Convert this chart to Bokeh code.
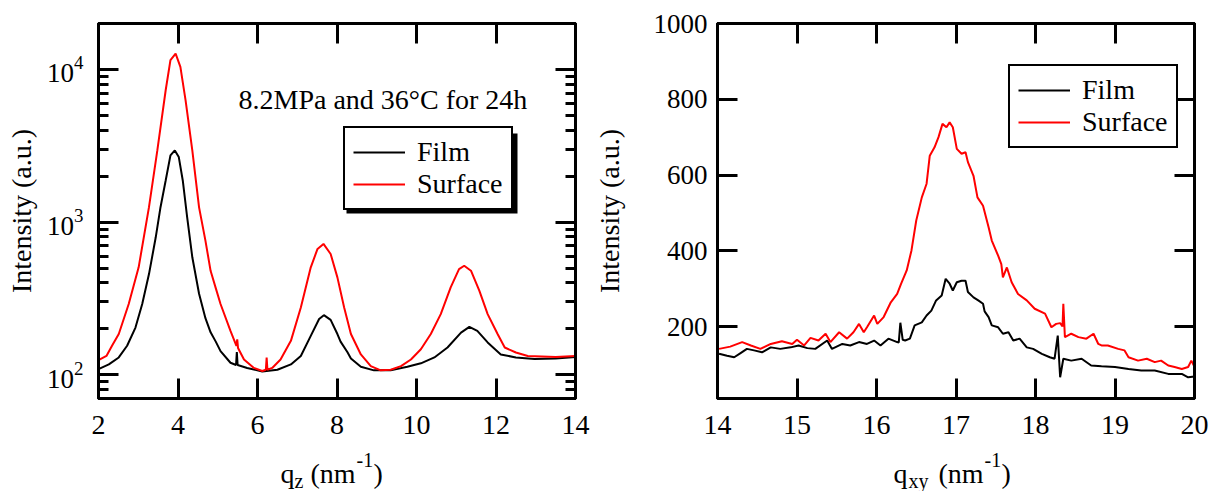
import numpy as np
from bokeh.plotting import figure
from bokeh.models import (Label, Legend, LegendItem, LinearAxis, LogAxis, FixedTicker,
                          CustomJSTickFormatter, BoxAnnotation, Range1d)
from bokeh.layouts import row, column
from bokeh.embed import file_html
from bokeh.resources import INLINE

# ---------------- data ----------------
film_qz = [2.00, 2.26, 2.51, 2.72, 2.93, 3.10, 3.27, 3.44, 3.56, 3.69, 3.81, 3.92, 4.02, 4.12,
           4.23, 4.36, 4.53, 4.69, 4.82, 4.95, 5.07, 5.32, 5.46, 5.48, 5.50, 5.74, 6.12, 6.50,
           6.84, 7.09, 7.34, 7.55, 7.67, 7.84, 8.01, 8.09, 8.26, 8.35, 8.60, 8.93, 9.35, 9.77,
           10.11, 10.45, 10.78, 11.12, 11.33, 11.53, 11.79, 12.12, 12.50, 12.97, 13.50, 14.00]
film_I = [109, 117, 130, 155, 204, 291, 457, 796, 1253, 1875, 2735, 2950, 2667, 1875,
          1077, 589, 340, 235, 190, 165, 143, 120, 116, 141, 116, 111, 105, 108,
          117, 133, 180, 232, 246, 229, 185, 165, 141, 128, 113, 107, 107, 113,
          119, 130, 151, 189, 206, 194, 163, 136, 130, 127, 128, 131]

surf_qz = [2.00, 2.20, 2.34, 2.51, 2.76, 3.01, 3.27, 3.48, 3.69, 3.81, 3.94, 4.06, 4.19, 4.36,
           4.53, 4.69, 4.82, 4.95, 5.07, 5.32, 5.47, 5.49, 5.51, 5.66, 5.91, 6.12, 6.21, 6.23,
           6.25, 6.37, 6.58, 6.84, 7.09, 7.34, 7.51, 7.66, 7.84, 8.01, 8.18, 8.35, 8.60, 8.85,
           9.10, 9.35, 9.61, 9.86, 10.11, 10.36, 10.61, 10.86, 11.07, 11.20, 11.37, 11.58,
           11.79, 12.04, 12.22, 12.50, 12.80, 13.50, 14.00]
surf_I = [125, 133, 155, 185, 291, 506, 1253, 2950, 7310, 11500, 12700, 10400, 6300, 2950,
          1250, 757, 480, 370, 291, 194, 155, 171, 150, 126, 111, 106, 108, 130,
          108, 111, 126, 167, 276, 506, 668, 720, 619, 435, 276, 185, 136, 114,
          107, 108, 114, 126, 147, 185, 250, 374, 493, 518, 481, 356,
          250, 185, 151, 140, 133, 131, 133]

film_qxy = [14.02, 14.12, 14.21, 14.29, 14.37, 14.46, 14.56, 14.67, 14.79, 14.92,
            15.02, 15.13, 15.23, 15.38, 15.44, 15.57, 15.67, 15.78, 15.88, 15.97,
            16.05, 16.15, 16.26, 16.28, 16.30, 16.33, 16.36, 16.42, 16.48, 16.57,
            16.63, 16.69, 16.75, 16.82, 16.87, 16.92, 16.96, 17.01, 17.07, 17.12,
            17.15, 17.22, 17.28, 17.34, 17.36, 17.41, 17.45, 17.53, 17.59, 17.66,
            17.72, 17.80, 17.89, 17.97, 18.08, 18.18, 18.24, 18.28, 18.31, 18.35,
            18.45, 18.58, 18.70, 18.83, 19.00, 19.17, 19.33, 19.50, 19.67, 19.84,
            19.92, 20.00]
film_Ixy = [128, 123, 119, 130, 141, 137, 132, 145, 141, 145,
            150, 143, 141, 163, 141, 154, 150, 159, 154, 163,
            150, 168, 159, 158, 210, 165, 163, 168, 203, 211,
            229, 242, 269, 282, 326, 313, 295, 317, 321, 321,
            291, 277, 269, 260, 240, 225, 203, 198, 181, 185,
            163, 168, 145, 141, 128, 119, 115, 176, 66, 115,
            110, 115, 97, 95, 93, 88, 84, 84, 75, 75,
            66, 68]

surf_qxy = [14.02, 14.16, 14.31, 14.42, 14.54, 14.67, 14.81, 14.94, 15.00, 15.09,
            15.17, 15.27, 15.36, 15.42, 15.53, 15.63, 15.71, 15.78, 15.84, 15.88,
            15.97, 16.01, 16.09, 16.18, 16.26, 16.31, 16.38, 16.44, 16.50, 16.57,
            16.63, 16.67, 16.73, 16.78, 16.83, 16.88, 16.92, 16.96, 17.01, 17.07,
            17.12, 17.15, 17.22, 17.27, 17.34, 17.41, 17.45, 17.53, 17.57, 17.59,
            17.64, 17.70, 17.78, 17.89, 17.99, 18.12, 18.20, 18.26, 18.31, 18.34,
            18.35, 18.37, 18.45, 18.54, 18.64, 18.73, 18.79, 18.83, 18.91, 19.04,
            19.12, 19.17, 19.29, 19.40, 19.50, 19.58, 19.67, 19.75, 19.84, 19.92,
            19.96, 20.00]
surf_Ixy = [141, 147, 159, 150, 141, 154, 161, 154, 165, 150,
            170, 163, 181, 159, 185, 168, 185, 207, 185, 198,
            229, 207, 225, 264, 286, 313, 348, 401, 480, 541,
            577, 651, 673, 700, 735, 726, 739, 726, 669, 656,
            660, 634, 598, 541, 519, 462, 427, 387, 365, 330,
            356, 317, 286, 269, 247, 234, 198, 207, 209, 200,
            260, 172, 181, 172, 168, 181, 154, 150, 150, 141,
            137, 119, 110, 115, 106, 110, 97, 93, 88, 93,
            110, 94]

qz_ticks = [2, 4, 6, 8, 10, 12, 14]
logI_ticks = [100, 1000, 10000]
logI_minor = [k * 10 ** n for n in (1, 2, 3, 4) for k in range(2, 10) if 70 <= k * 10 ** n <= 20000]
qxy_ticks = [14, 15, 16, 17, 18, 19, 20]
Ixy_ticks = [200, 400, 600, 800, 1000]

series_names = ["Film", "Surface"]
annotation_text = "8.2MPa and 36°C for 24h"
y_title = "Intensity (a.u.)"

FONT = "Liberation Serif"
BLACK = "#000000"
RED = "#ff0000"
LW = 3
TOP, FRAME_H, BOTTOM = 23, 375, 48
TOTAL_H = 491


def style_axis(ax, labels=True, size="27px", standoff=10):
    ax.axis_line_width = LW
    ax.axis_line_color = BLACK
    ax.major_tick_in = 20
    ax.major_tick_out = 0
    ax.minor_tick_in = 10
    ax.minor_tick_out = 0
    ax.major_tick_line_width = LW
    ax.minor_tick_line_width = LW
    ax.major_tick_line_color = BLACK
    ax.minor_tick_line_color = BLACK
    ax.major_label_text_font = FONT
    ax.major_label_text_font_size = size
    ax.major_label_text_color = BLACK
    ax.major_label_standoff = standoff
    ax.axis_label_text_font = FONT
    ax.axis_label_text_font_size = "28px"
    ax.axis_label_text_font_style = "normal"
    ax.axis_label_text_color = BLACK
    if not labels:
        ax.formatter = CustomJSTickFormatter(code="return ''")
        ax.major_label_text_font_size = "1px"
        ax.major_label_standoff = 0


def base_fig(**kw):
    p = figure(frame_width=477, frame_height=FRAME_H, min_border_top=TOP, min_border_bottom=BOTTOM,
               output_backend="svg", toolbar_location=None, **kw)
    p.outline_line_color = BLACK
    p.outline_line_width = LW
    p.xgrid.visible = False
    p.ygrid.visible = False
    p.background_fill_color = "white"
    p.border_fill_color = "white"
    return p


def label_fig(width, height):
    f = figure(width=width, height=height, x_axis_location=None, y_axis_location=None,
               min_border_left=0, min_border_right=0, min_border_top=0, min_border_bottom=0,
               x_range=Range1d(0, 1), y_range=Range1d(0, 1),
               output_backend="svg", toolbar_location=None)
    f.outline_line_color = None
    f.xgrid.visible = False
    f.ygrid.visible = False
    f.background_fill_color = "white"
    f.border_fill_color = "white"
    return f


def lbl(p, x, y, text, size="28px", **kw):
    p.add_layout(Label(x=x, y=y, x_units="screen", y_units="screen", text=text,
                       text_font=FONT, text_font_size=size, text_color=BLACK, **kw))


def make_legend(renderers, loc):
    leg = Legend(items=[LegendItem(label=n, renderers=[r]) for n, r in zip(series_names, renderers)],
                 location=loc, margin=0)
    leg.label_text_font = FONT
    leg.label_text_font_size = "28px"
    leg.label_text_color = BLACK
    leg.glyph_width = 52
    leg.glyph_height = 32
    leg.label_height = 32
    leg.label_standoff = 12
    leg.spacing = 0
    leg.padding = 8
    leg.border_line_color = BLACK
    leg.border_line_alpha = 1.0
    leg.border_line_width = 2.5
    leg.background_fill_color = "white"
    leg.background_fill_alpha = 1.0
    return leg


XL_H = TOTAL_H - (TOP + FRAME_H + BOTTOM)
BASE = 18          # baseline of the x-axis titles above the strip bottom
SUB = BASE - 7     # subscript baseline
SUP = BASE + 14    # superscript baseline

# ---------------- left panel ----------------
p1 = base_fig(y_axis_type="log", x_range=Range1d(2, 14), y_range=Range1d(70, 20000),
              min_border_left=98, min_border_right=15)
r1 = p1.line(film_qz, film_I, line_color=BLACK, line_width=2)
r2 = p1.line(surf_qz, surf_I, line_color=RED, line_width=2)

p1.xaxis[0].ticker = FixedTicker(ticks=qz_ticks)
style_axis(p1.xaxis[0], True, "28px", 17)
p1.yaxis[0].ticker = FixedTicker(ticks=logI_ticks, minor_ticks=logI_minor)
style_axis(p1.yaxis[0], True, "27px", 15)
p1.yaxis[0].axis_label = y_title
p1.yaxis[0].axis_label_standoff = 7

top1 = LinearAxis(ticker=FixedTicker(ticks=qz_ticks))
style_axis(top1, False)
p1.add_layout(top1, "above")
right1 = LogAxis(ticker=FixedTicker(ticks=logI_ticks, minor_ticks=logI_minor))
style_axis(right1, False)
p1.add_layout(right1, "right")

# legend shadow + legend
p1.add_layout(BoxAnnotation(left=248, right=419, bottom=185, top=265,
                            left_units="screen", right_units="screen",
                            bottom_units="screen", top_units="screen",
                            fill_color=BLACK, fill_alpha=1.0, line_color=None))
p1.add_layout(make_legend([r1, r2], (245, 188)))
lbl(p1, 140, 299, annotation_text, text_baseline="alphabetic")

# x-axis title (frame of this strip is aligned with the plot frame above)
xl1 = label_fig(590, XL_H)
lbl(xl1, 182, BASE, "q", text_baseline="alphabetic")
lbl(xl1, 196, SUB, "z", size="20px", text_baseline="alphabetic")
lbl(xl1, 212, BASE, "(nm", text_baseline="alphabetic")
lbl(xl1, 258, SUP, "-1", size="20px", text_baseline="alphabetic")
lbl(xl1, 275, BASE, ")", text_baseline="alphabetic")

# ---------------- right panel ----------------
p2 = base_fig(x_range=Range1d(14, 20), y_range=Range1d(10, 1000),
              min_border_left=126, min_border_right=18)
s1 = p2.line(film_qxy, film_Ixy, line_color=BLACK, line_width=2)
s2 = p2.line(surf_qxy, surf_Ixy, line_color=RED, line_width=2)

p2.xaxis[0].ticker = FixedTicker(ticks=qxy_ticks)
style_axis(p2.xaxis[0], True, "28px", 17)
p2.yaxis[0].ticker = FixedTicker(ticks=Ixy_ticks)
style_axis(p2.yaxis[0], True, "27px", 10)
p2.yaxis[0].axis_label = y_title
p2.yaxis[0].axis_label_standoff = 26

top2 = LinearAxis(ticker=FixedTicker(ticks=qxy_ticks))
style_axis(top2, False)
p2.add_layout(top2, "above")
right2 = LinearAxis(ticker=FixedTicker(ticks=Ixy_ticks))
style_axis(right2, False)
p2.add_layout(right2, "right")

p2.add_layout(make_legend([s1, s2], (291, 250)))

xl2 = label_fig(621, XL_H)
lbl(xl2, 176, BASE, "q", text_baseline="alphabetic")
lbl(xl2, 191, SUB, "xy", size="20px", text_baseline="alphabetic")
lbl(xl2, 221, BASE, "(nm", text_baseline="alphabetic")
lbl(xl2, 267, SUP, "-1", size="20px", text_baseline="alphabetic")
lbl(xl2, 284, BASE, ")", text_baseline="alphabetic")

layout = row(column(p1, xl1), column(p2, xl2))
open("out.html", "w").write(file_html(layout, INLINE))
